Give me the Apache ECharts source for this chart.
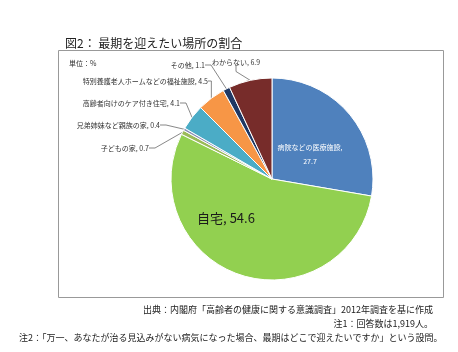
<!DOCTYPE html>
<html>
<head>
<meta charset="utf-8">
<script src="https://cdn.jsdelivr.net/npm/echarts@6/dist/echarts.min.js"></script>
<style>
  html, body { margin: 0; padding: 0; background: #fff; }
  #chart { width: 458px; height: 352px; }
</style>
</head>
<body>
<div id="chart"></div>
<script>
var places = [
  "病院などの医療施設",
  "自宅",
  "子どもの家",
  "兄弟姉妹など親族の家",
  "高齢者向けのケア付き住宅",
  "特別養護老人ホームなどの福祉施設",
  "その他",
  "わからない"
];
var shares = [27.7, 54.6, 0.7, 0.4, 4.1, 4.5, 1.1, 6.9];
var colors = ["#4f81bd", "#92d050", "#9bbb59", "#8c8fb5", "#4bacc6", "#f79646", "#1f3864", "#772c2a"];

// where each label sits (label placement only)
var labelSpots = {
  "病院などの医療施設": { x: 310, y: 154, align: "center" },
  "自宅": { x: 226, y: 218, align: "center" },
  "子どもの家": { x: 149, y: 148, align: "right" },
  "兄弟姉妹など親族の家": { x: 160, y: 125, align: "right" },
  "高齢者向けのケア付き住宅": { x: 180, y: 103, align: "right" },
  "特別養護老人ホームなどの福祉施設": { x: 208, y: 81, align: "right" },
  "その他": { x: 205, y: 65, align: "right" },
  "わからない": { x: 236, y: 62, align: "center" }
};

var font = "'Noto Sans CJK JP', sans-serif";

var chartDom = document.getElementById("chart");
var myChart = echarts.init(chartDom);

var pieData = places.map(function (name, i) {
  var item = { name: name, value: shares[i], itemStyle: { color: colors[i] } };
  if (i === 0) {
    item.label = {
      position: "inside",
      color: "#fff",
      fontSize: 7,
      lineHeight: 14,
      formatter: "{b},\n{c}"
    };
  } else if (i === 1) {
    item.label = {
      position: "inside",
      color: "#1a1a1a",
      fontSize: 13,
      formatter: "{b}, {c}"
    };
  }
  return item;
});

var option = {
  animation: false,
  title: [
    {
      text: "図2： 最期を迎えたい場所の割合",
      left: 60,
      top: 32,
      textStyle: { fontFamily: font, fontSize: 12, fontWeight: "normal", color: "#222" }
    },
    {
      text: "単位：%",
      left: 64,
      top: 55,
      textStyle: { fontFamily: font, fontSize: 7, fontWeight: "normal", color: "#333" }
    },
    {
      text: "出典：内閣府「高齢者の健康に関する意識調査」2012年調査を基に作成",
      right: 20,
      top: 300,
      textStyle: { fontFamily: font, fontSize: 9, fontWeight: "normal", color: "#222" }
    },
    {
      text: "注1：回答数は1,919人。",
      right: 20,
      top: 314,
      textStyle: { fontFamily: font, fontSize: 9, fontWeight: "normal", color: "#222" }
    },
    {
      text: "注2：「万一、あなたが治る見込みがない病気になった場合、最期はどこで迎えたいですか」という設問。",
      left: 14,
      top: 328,
      textStyle: { fontFamily: font, fontSize: 9, fontWeight: "normal", color: "#222" }
    }
  ],
  graphic: [
    {
      type: "rect",
      shape: { x: 58.5, y: 50.5, width: 385, height: 247 },
      style: { fill: "none", stroke: "#999", lineWidth: 1 },
      z: -1
    }
  ],
  series: [
    {
      type: "pie",
      center: [272, 179],
      radius: 101,
      startAngle: 90,
      clockwise: true,
      data: pieData,
      itemStyle: { borderColor: "#fff", borderWidth: 1 },
      label: {
        fontFamily: font,
        fontSize: 7,
        color: "#333",
        formatter: "{b}, {c}"
      },
      labelLine: {
        show: true,
        length: 8,
        length2: 6,
        lineStyle: { color: "#555", width: 0.7 }
      },
      labelLayout: function (params) {
        var name = places[params.dataIndex];
        var s = labelSpots[name];
        return {
          x: s.x,
          y: s.y,
          align: s.align,
          verticalAlign: "middle"
        };
      }
    }
  ]
};

myChart.setOption(option);
window.addEventListener("resize", myChart.resize);
</script>
</body>
</html>
